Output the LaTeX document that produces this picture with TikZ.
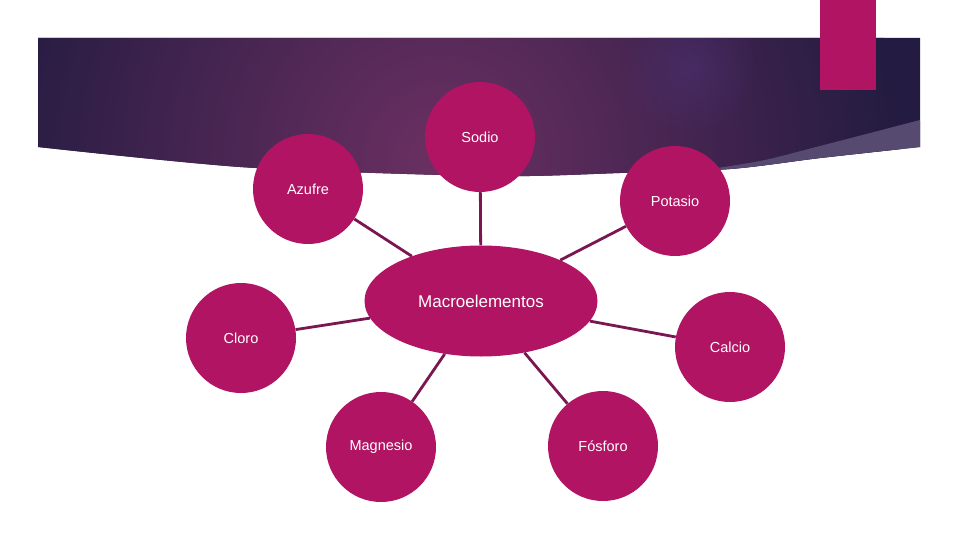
\documentclass[tikz,border=0pt]{standalone}
\usepackage{fontspec}
\setmainfont{Liberation Sans}
\definecolor{BannerDark}{HTML}{231B41}
\definecolor{BannerGlow}{HTML}{6B3062}
\definecolor{BannerSpot}{HTML}{4A3070}
\definecolor{BannerBand}{HTML}{574A70}
\definecolor{Element}{HTML}{B01463}
\definecolor{Spoke}{HTML}{7A1650}
\usetikzlibrary{shapes.geometric, fadings}
\tikzfading[name=glow, inner color=transparent!0, outer color=transparent!100]
\tikzset{
    element/.style={
        circle, fill=Element, minimum size=110pt, inner sep=0pt,
        text=white, font=\fontsize{14.5}{17}\selectfont
    },
    core/.style={
        ellipse, fill=Element, minimum width=233pt, minimum height=111pt,
        inner sep=0pt, text=white, font=\fontsize{17}{20}\selectfont
    },
    spoke/.style={draw=Spoke, line width=2.8pt}
}

\begin{document}
\begin{tikzpicture}[x=1pt, y=-1pt]
\useasboundingbox (0,0) rectangle (960,540);

% banner with curved lower edge
\begin{scope}
\clip (38,38) -- (920,38) -- (920,147)
    -- plot[smooth] coordinates {(920,147) (820,158) (730,169) (620,173)
        (530,176) (440,175) (240,167) (38,147)} -- cycle;
\fill[BannerDark] (0,0) rectangle (960,200);
\shade[inner color=BannerGlow, outer color=BannerDark] (440,160) circle (460);
\fill[BannerSpot, path fading=glow, fill opacity=0.6] (690,68) circle (70);
\fill[BannerBand] (920,120)
    -- plot[smooth] coordinates {(920,120) (820,146) (760,161) (690,172)}
    -- (690,200) -- (960,200) -- cycle;
\end{scope}

\fill[Element] (820,0) rectangle (876,90);

\node[core] (macro) at (481,301) {Macroelementos};

\node[element] (sodio) at (480,137) {Sodio};
\node[element] (azufre) at (308,189) {Azufre};
\node[element] (potasio) at (675,201) {Potasio};
\node[element] (cloro) at (241,338) {Cloro};
\node[element] (calcio) at (730,347) {Calcio};
\node[element] (magnesio) at (381,447) {Magnesio};
\node[element] (fosforo) at (603,446) {Fósforo};

\foreach \leaf in {sodio, azufre, potasio, cloro, calcio, magnesio, fosforo}
    \draw[spoke] (macro) -- (\leaf);

\end{tikzpicture}
\end{document}
